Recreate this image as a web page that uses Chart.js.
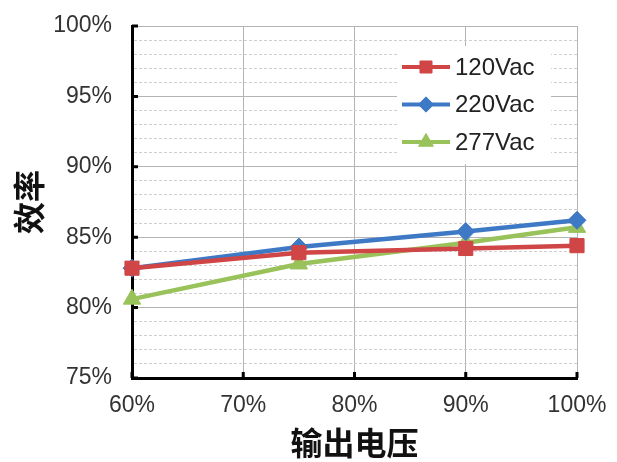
<!DOCTYPE html>
<html>
<head>
<meta charset="utf-8">
<script src="https://cdn.jsdelivr.net/npm/chart.js@4.4.1/dist/chart.umd.min.js"></script>
<style>
    html, body { margin: 0; padding: 0; background: #fff; }
    #wrap { width: 617px; height: 462px; }
</style>
</head>
<body>
<div id="wrap"><canvas id="graficaEficiencia"></canvas></div>
<script>
// ======================
// DATOS
// ======================
const cargas = [60, 75, 90, 100];          // salida, %
const series = ["120Vac", "220Vac", "277Vac"];
const ef120 = [82.8, 83.9, 84.2, 84.4];
const ef220 = [82.8, 84.3, 85.4, 86.2];
const ef277 = [80.6, 83.1, 84.6, 85.7];
const ticksX = [60, 70, 80, 90, 100];
const ticksY = [75, 80, 85, 90, 95, 100];

const colores = ["#D04545", "#3E79C6", "#99C25A"];
const estilos = ["rect", "rectRot", "triangle"];
const radios = [10, 9, 10];
const fuente = "'Liberation Sans', Arial, sans-serif";
const fuenteCJK = "'Noto Sans CJK SC', sans-serif";

function puntos(valores) {
    return cargas.map((c, i) => ({ x: c, y: valores[i] }));
}

// ======================
// LEYENDA + MARCAS INTERIORES
// ======================
const leyendaPropia = {
    id: "leyendaPropia",
    afterDatasetsDraw(chart) {
        const ctx = chart.ctx;
        ctx.save();
        ctx.fillStyle = "#fff";
        ctx.fillRect(397, 46, 154, 118);
        chart.data.datasets.forEach((ds, i) => {
            const cy = 67 + i * 37.5;
            ctx.strokeStyle = ds.borderColor;
            ctx.fillStyle = ds.borderColor;
            ctx.lineWidth = 4;
            ctx.beginPath();
            ctx.moveTo(402, cy);
            ctx.lineTo(450, cy);
            ctx.stroke();
            ctx.lineWidth = 1;
            Chart.helpers.drawPoint(ctx, {
                pointStyle: ds.pointStyle, radius: ds.pointRadius * 0.85,
                rotation: 0, borderWidth: 1
            }, 426, cy);
            ctx.fillStyle = "#222";
            ctx.font = "24px " + fuente;
            ctx.textBaseline = "middle";
            ctx.textAlign = "left";
            ctx.fillText(ds.label, 455, cy + 1);
        });
        ctx.restore();
    },
    afterDraw(chart) {
        const ctx = chart.ctx;
        const sx = chart.scales.x, sy = chart.scales.y;
        ctx.save();
        ctx.strokeStyle = "#000";
        ctx.lineWidth = 3;
        ctx.beginPath();
        ticksY.forEach(v => {
            const py = sy.getPixelForValue(v);
            ctx.moveTo(sx.left, py);
            ctx.lineTo(sx.left + 6, py);
        });
        ticksX.forEach(v => {
            const px = sx.getPixelForValue(v);
            ctx.moveTo(px, sy.bottom);
            ctx.lineTo(px, sy.bottom - 6);
        });
        ctx.stroke();
        ctx.restore();
    }
};

// ======================
// GRAFICA
// ======================
const valores = [ef120, ef220, ef277];

new Chart(document.getElementById("graficaEficiencia"), {
    type: "line",
    data: {
        datasets: series.map((nombre, i) => ({
            label: nombre,
            data: puntos(valores[i]),
            borderColor: colores[i],
            backgroundColor: colores[i],
            borderWidth: 4.5,
            pointStyle: estilos[i],
            pointRadius: radios[i],
            pointBorderWidth: 1,
            tension: 0,
            clip: false
        }))
    },
    options: {
        responsive: true,
        maintainAspectRatio: false,
        animation: false,
        layout: { padding: { left: 0, top: 26, right: 40, bottom: 0 } },
        plugins: {
            legend: { display: false },
            tooltip: { enabled: false }
        },
        scales: {
            x: {
                type: "linear",
                min: 60,
                max: 100,
                afterFit: s => { s.height = 84; s.paddingLeft = 0; s.paddingRight = 0; },
                afterBuildTicks: s => { s.ticks = ticksX.map(v => ({ value: v })); },
                ticks: {
                    callback: v => v + "%",
                    color: "#333",
                    font: { family: fuente, size: 23 },
                    padding: 14,
                    maxRotation: 0
                },
                grid: { color: "#b4b4b4", lineWidth: 1, drawTicks: false },
                border: { color: "#000", width: 3 },
                title: {
                    display: true,
                    text: "输出电压",
                    color: "#111",
                    font: { family: fuenteCJK, size: 32, weight: "bold" },
                    padding: { top: 0, bottom: 0 }
                }
            },
            y: {
                min: 75,
                max: 100,
                afterFit: s => { s.width = 132; s.paddingTop = 0; s.paddingBottom = 0; },
                ticks: {
                    stepSize: 1,
                    autoSkip: false,
                    callback: v => (v % 5 === 0 ? v + "%" : ""),
                    color: "#333",
                    font: { family: fuente, size: 23 },
                    padding: 20
                },
                grid: {
                    color: c => (c.tick && c.tick.value % 5 !== 0 ? "#cfcfcf" : "#b4b4b4"),
                    lineWidth: 1,
                    drawTicks: false
                },
                border: {
                    color: "#000",
                    width: 3,
                    dash: c => (c.tick && c.tick.value % 5 !== 0 ? [3, 2] : [])
                },
                title: {
                    display: true,
                    text: "效率",
                    color: "#111",
                    font: { family: fuenteCJK, size: 32, weight: "bold" },
                    padding: { top: 10, bottom: 0 }
                }
            }
        }
    },
    plugins: [leyendaPropia]
});
</script>
</body>
</html>
